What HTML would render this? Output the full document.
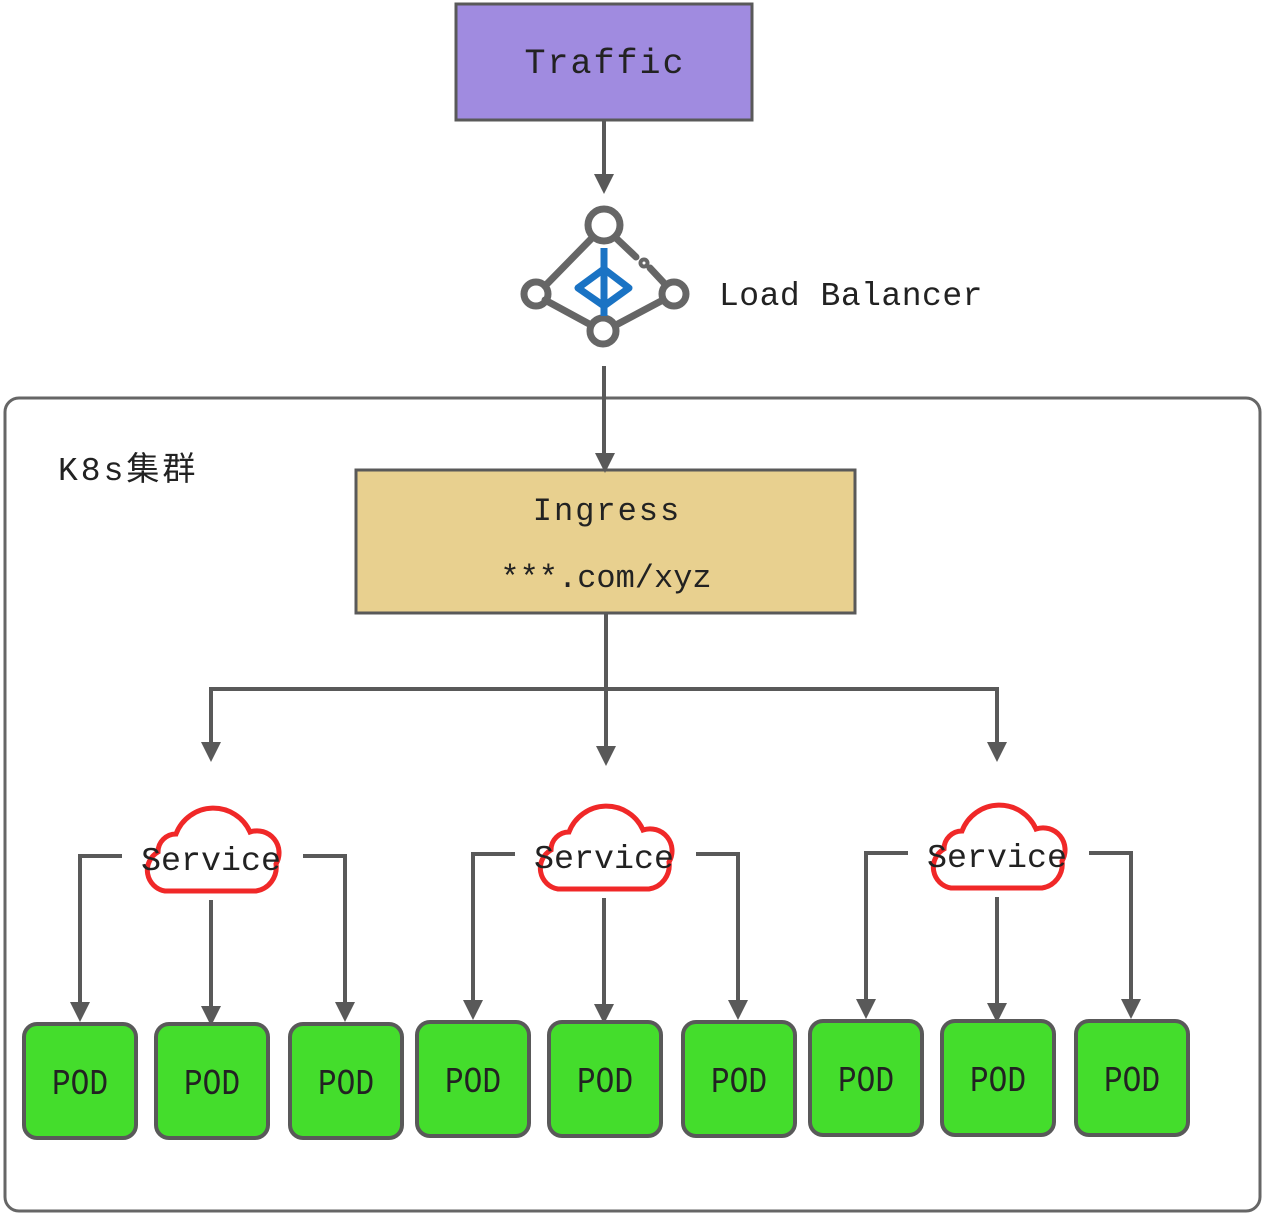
<!DOCTYPE html>
<html><head><meta charset="utf-8"><style>
html,body{margin:0;padding:0;background:#fff}
svg{display:block}
text{font-family:"Liberation Mono","Noto Sans CJK SC",monospace;fill:#222}
.pod{font-family:"Liberation Sans",sans-serif}
</style></head><body>
<svg width="1265" height="1216" viewBox="0 0 1265 1216" xmlns="http://www.w3.org/2000/svg">
<g stroke="#595959" stroke-width="4" fill="none">
<rect x="5" y="398" width="1255" height="813" rx="14" stroke="#666" stroke-width="3"/>
<rect x="456" y="4" width="296" height="116" fill="#a08be0" stroke-width="3"/>
<rect x="356" y="470" width="499" height="143" fill="#e8d08f" stroke-width="3"/>
<path d="M604,120 V176"/>
<path d="M604,366 V455"/>
<path d="M606,613 V748"/>
<path d="M211,744 V689 H997 V744"/>
</g>
<g fill="#595959">
<path d="M594,174 L614,174 L604,194 z"/>
<path d="M595,453 L615,453 L605,473 z"/>
<path d="M596,746 L616,746 L606,766 z"/>
<path d="M201,742 L221,742 L211,762 z"/>
<path d="M987,742 L1007,742 L997,762 z"/>
</g>
<text x="605" y="73" font-size="35" text-anchor="middle" letter-spacing="2">Traffic</text>
<g stroke="#666" stroke-width="7" fill="none" stroke-linecap="round">
<line x1="592" y1="238" x2="545" y2="286"/>
<line x1="545" y1="300" x2="591" y2="325"/>
<line x1="616" y1="325" x2="663" y2="300"/>
<line x1="617" y1="239" x2="636" y2="257"/>
<line x1="650" y1="268" x2="664" y2="283"/>
<circle cx="644" cy="263" r="2"/>
<circle cx="604" cy="225" r="16"/>
<circle cx="536" cy="294" r="12"/>
<circle cx="674" cy="294" r="12"/>
<circle cx="603" cy="331" r="13"/>
</g>
<g stroke="#1a73c4" stroke-width="7" fill="none" stroke-linejoin="round">
<line x1="604" y1="248" x2="604" y2="316"/>
<path d="M604,269 L629,288 L604,306 L578,288 z"/>
</g>
<text x="719" y="305" font-size="33" letter-spacing="0.5">Load Balancer</text>
<text x="58" y="480" font-size="33" letter-spacing="3">K8s集群</text>
<text x="607" y="520" font-size="32" text-anchor="middle" letter-spacing="2">Ingress</text>
<text x="606" y="587" font-size="32" text-anchor="middle">***.com/xyz</text>

<g id="g1">
<g stroke="#595959" stroke-width="4" fill="none">
<path d="M122,856 H80 V1004"/>
<path d="M303,856 H345 V1004"/>
<path d="M211,900 V1008"/>
</g>
<g fill="#595959">
<path d="M70,1002 L90,1002 L80,1022 z"/>
<path d="M335,1002 L355,1002 L345,1022 z"/>
<path d="M201,1006 L221,1006 L211,1026 z"/>
</g>
<path d="M165,891 A21,21 0 0 1 158,852 A18,18 0 0 1 176,834 A40,40 0 0 1 250,832 A22,22 0 0 1 276,864 A24,24 0 0 1 256,891 Z" fill="#fff" stroke="#f02828" stroke-width="5"/>
<text x="211" y="870" font-size="33" text-anchor="middle" textLength="140" lengthAdjust="spacingAndGlyphs">Service</text>
<g stroke="#595959" stroke-width="4" fill="#44dd2c">
<rect x="24" y="1024" width="112" height="114" rx="13"/>
<rect x="156" y="1024" width="112" height="114" rx="13"/>
<rect x="290" y="1024" width="112" height="114" rx="13"/>
</g>
<g class="pod" font-size="36" text-anchor="middle">
<text x="80" y="1094" textLength="56" lengthAdjust="spacingAndGlyphs">POD</text>
<text x="212" y="1094" textLength="56" lengthAdjust="spacingAndGlyphs">POD</text>
<text x="346" y="1094" textLength="56" lengthAdjust="spacingAndGlyphs">POD</text>
</g>
</g>
<use href="#g1" transform="translate(393,-2)"/>
<use href="#g1" transform="translate(786,-3)"/>
</svg>
</body></html>
